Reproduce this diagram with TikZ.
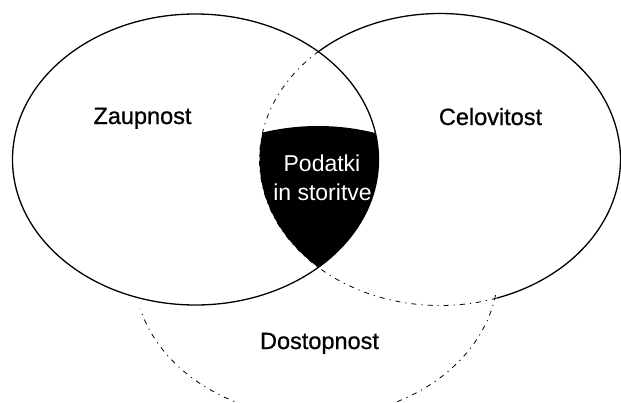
\documentclass[tikz,border=0pt]{standalone}
\usepackage{fontspec}
\setmainfont{Liberation Sans}
\newfontfamily\labelfont[FakeBold=0.8]{Liberation Sans}
\begin{document}
\begin{tikzpicture}[x=1pt,y=-1pt,
  solidline/.style={line width=1.3pt},
  hiddenline/.style={line width=0.8pt, dash pattern=on 5pt off 5pt on 1.2pt off 5pt},
  label/.style={anchor=base, font=\labelfont\fontsize{23.5}{28}\selectfont, inner sep=0pt},
  innerlabel/.style={anchor=base, text=white, font=\fontsize{23}{28}\selectfont, inner sep=0pt}]
\useasboundingbox (0,0) rectangle (621,402);
\clip (0,0) rectangle (621,402);
% triple intersection
\begin{scope}
  \clip (195.5,159.5) ellipse [x radius=183pt, y radius=145.5pt];
  \clip (440,159.5) ellipse [x radius=180.5pt, y radius=146pt];
  \fill[black] (318,268) ellipse [x radius=184pt, y radius=142pt];
\end{scope}
% left ellipse (Zaupnost)
\draw[solidline] (195.5,159.5) ellipse [x radius=183pt, y radius=145.5pt];
% right ellipse (Celovitost)
\draw[solidline] plot[domain=227.7:431.7, samples=120, smooth] ({440+180.5*cos(\x)},{159.5+146*sin(\x)});
\draw[hiddenline] plot[domain=71.7:227.7, samples=100, smooth] ({440+180.5*cos(\x)},{159.5+146*sin(\x)});
% bottom ellipse (Dostopnost)
\draw[hiddenline] plot[domain=9.5:165, samples=120, smooth] ({316+182*cos(\x)},{271+146*sin(\x)});
% labels
\node[label] (z) at (142.5,124) {Zaupnost};
\node[label] (c) at (490.5,125) {Celovitost};
\node[label] (d) at (319.5,349) {Dostopnost};
\node[innerlabel] (p1) at (322,171) {Podatki};
\node[innerlabel] (p2) at (322.5,200) {in storitve};
\end{tikzpicture}
\end{document}
